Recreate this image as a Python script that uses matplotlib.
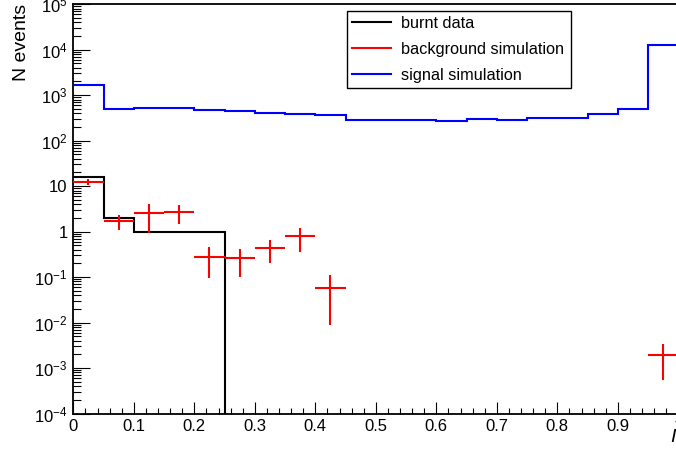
import numpy as np
import matplotlib
matplotlib.use("Agg")
import matplotlib.pyplot as plt
from matplotlib.lines import Line2D
from matplotlib.ticker import FixedLocator, FixedFormatter, NullFormatter

plt.rcParams['font.family'] = ['Liberation Sans', 'DejaVu Sans']
plt.rcParams['mathtext.fontset'] = 'custom'
plt.rcParams['mathtext.rm'] = 'Liberation Sans'
plt.rcParams['mathtext.it'] = 'Liberation Sans:italic'
plt.rcParams['mathtext.default'] = 'regular'

# ---------------- data ----------------
bin_edges = np.round(np.arange(0, 1.0001, 0.05), 3)

signal_sim = [1670, 490, 516, 516, 466, 443, 401, 380, 362, 285,
              288, 285, 276, 300, 285, 316, 320, 380, 505, 12700]

burnt_data = [16, 2, 1, 1, 1, 0, 0, 0, 0, 0,
              0, 0, 0, 0, 0, 0, 0, 0, 0, 0]

bkg_x = [0.025, 0.075, 0.125, 0.175, 0.225, 0.275, 0.325, 0.375, 0.425, 0.975]
bkg_y = [12.6, 1.72, 2.54, 2.67, 0.274, 0.26, 0.43, 0.78, 0.0588, 0.00195]
bkg_yerr = [1.9, 0.65, 1.6, 1.2, 0.18, 0.16, 0.23, 0.42, 0.05, 0.0014]
bkg_xerr = [0.025] * len(bkg_x)

x_ticks = [0, 0.1, 0.2, 0.3, 0.4, 0.5, 0.6, 0.7, 0.8, 0.9, 1.0]
x_tick_labels = ["0", "0.1", "0.2", "0.3", "0.4", "0.5", "0.6", "0.7", "0.8", "0.9", "1"]
y_ticks = [1e-4, 1e-3, 1e-2, 1e-1, 1, 10, 1e2, 1e3, 1e4, 1e5]
y_tick_labels = [r"$10^{-4}$", r"$10^{-3}$", r"$10^{-2}$", r"$10^{-1}$", "1", "10",
                 r"$10^{2}$", r"$10^{3}$", r"$10^{4}$", r"$10^{5}$"]

legend_labels = ["burnt data", "background simulation", "signal simulation"]
y_title = "N events"
x_title = "I"

# ---------------- figure ----------------
W, H = 676, 454
fig = plt.figure(figsize=(W / 100, H / 100), dpi=100)
ax = fig.add_axes([73.3 / W, (H - 413.5) / H, 605 / W, (413.5 - 4.2) / H])
ax.set_yscale('log')
ax.set_xlim(0, 1)
ax.set_ylim(1e-4, 1e5)

lw = 1.5
burnt_plot = np.where(np.array(burnt_data) > 0, burnt_data, 1e-12)
ax.stairs(burnt_plot, bin_edges, color='black', linewidth=lw, baseline=None, zorder=3)

ax.errorbar(bkg_x, bkg_y, xerr=bkg_xerr, yerr=bkg_yerr, fmt='none',
            ecolor='#ff0000', elinewidth=lw, capsize=0, zorder=4)

ax.stairs(signal_sim, bin_edges, color='#0000ff', linewidth=lw, baseline=None, zorder=5)

# ticks
ax.xaxis.set_major_locator(FixedLocator(x_ticks))
ax.xaxis.set_major_formatter(FixedFormatter(x_tick_labels))
ax.xaxis.set_minor_locator(FixedLocator(np.round(np.arange(0, 1.0001, 0.02), 3)))
ax.yaxis.set_major_locator(FixedLocator(y_ticks))
ax.yaxis.set_major_formatter(FixedFormatter(y_tick_labels))
ax.yaxis.set_minor_locator(matplotlib.ticker.LogLocator(base=10, subs=np.arange(2, 10), numticks=30))
ax.yaxis.set_minor_formatter(NullFormatter())

ax.tick_params(axis='x', which='major', direction='in', length=8.5, width=0.8,
               labelsize=12, pad=4, top=False)
ax.tick_params(axis='x', which='minor', direction='in', length=4.3, width=0.8, top=False)
ax.tick_params(axis='y', which='major', direction='in', length=12, width=0.8,
               labelsize=12, pad=4, right=False)
ax.tick_params(axis='y', which='minor', direction='in', length=6, width=0.8, right=False)
for s in ax.spines.values():
    s.set_linewidth(1.3)

fig.text(21 / W, 1 - 4 / H, y_title, rotation=90, ha='center', va='top', fontsize=14)
fig.text(670 / W, 1 - 438 / H, x_title, ha='left', va='center', fontsize=14, style='italic')

handles = [Line2D([], [], color='black', lw=lw),
           Line2D([], [], color='#ff0000', lw=lw),
           Line2D([], [], color='#0000ff', lw=lw)]
leg = fig.legend(handles, legend_labels, loc='upper left',
                 bbox_to_anchor=(346.7 / W, 1 - 10.7 / H, (570.7 - 346.7) / W, 0),
                 mode='expand', fontsize=11.7, frameon=True, fancybox=False,
                 edgecolor='black', framealpha=1, borderaxespad=0, borderpad=0.33,
                 handlelength=2.4, handletextpad=0.6, labelspacing=0.66)
leg.get_frame().set_linewidth(1.0)

fig.savefig("out.png", dpi=100)
